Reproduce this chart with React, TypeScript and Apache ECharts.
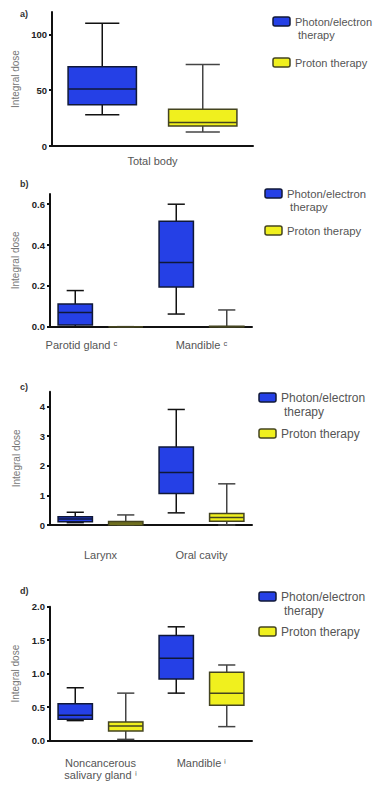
import React, { useEffect, useRef } from "react";
import * as echarts from "echarts";

const therapies = ["Photon/electron", "therapy", "Proton therapy"];
const yName = "Integral dose";
const panelLabels = ["a)", "b)", "c)", "d)"];

// box statistics: [min, Q1, median, Q3, max]
const aGroups = ["Total body"];
const aPhoton = [[28, 37, 51, 71, 110]];
const aProton = [[12.5, 18, 21, 33, 73]];
const aTicks = [0, 50, 100];

const bGroups = ["Parotid gland ᶜ", "Mandible ᶜ"];
const bPhoton = [
  [0, 0.008, 0.069, 0.111, 0.177],
  [0.062, 0.194, 0.315, 0.516, 0.6],
];
const bProton = [
  [0, 0, 0, 0, 0],
  [0, 0, 0, 0.002, 0.082],
];
const bTicks = [0, 0.2, 0.4, 0.6];

const cGroups = ["Larynx", "Oral cavity"];
const cPhoton = [
  [0.08, 0.11, 0.2, 0.28, 0.43],
  [0.41, 1.06, 1.77, 2.63, 3.9],
];
const cProton = [
  [0, 0, 0.07, 0.12, 0.34],
  [0, 0.13, 0.25, 0.39, 1.39],
];
const cTicks = [0, 1, 2, 3, 4];

const dGroups = ["Noncancerous\nsalivary gland ⁱ", "Mandible ⁱ"];
const dPhoton = [
  [0.3, 0.32, 0.38, 0.55, 0.79],
  [0.71, 0.92, 1.23, 1.57, 1.7],
];
const dProton = [
  [0.02, 0.145, 0.22, 0.28, 0.71],
  [0.21, 0.53, 0.71, 1.02, 1.13],
];
const dTicks = [0, 0.5, 1, 1.5, 2];

const BLUE = "#2540e6";
const YELLOW = "#f0f01e";
const FONT = "'Liberation Sans', Arial, sans-serif";

type Panel = {
  groups: string[];
  photon: number[][];
  proton: number[][];
  ticks: number[];
  max: number;
  dec: number;
  left: number;
  top: number;
  width: number;
  height: number;
  labelMargin: number;
  nameGap: number;
  legendX: number;
  legendY: number;
  yellowY: number;
  legendFont: number;
  labelY: number;
};

const panels: Panel[] = [
  { groups: aGroups, photon: aPhoton, proton: aProton, ticks: aTicks, max: 120, dec: 0,
    left: 52, top: 12, width: 201, height: 134, labelMargin: 9, nameGap: 26,
    legendX: 273, legendY: 17, yellowY: 58, legendFont: 11, labelY: 14 },
  { groups: bGroups, photon: bPhoton, proton: bProton, ticks: bTicks, max: 0.65, dec: 1,
    left: 50, top: 194, width: 202, height: 132.7, labelMargin: 12, nameGap: 29,
    legendX: 265, legendY: 189, yellowY: 226, legendFont: 11.3, labelY: 184 },
  { groups: cGroups, photon: cPhoton, proton: cProton, ticks: cTicks, max: 4.5, dec: 0,
    left: 50, top: 391.7, width: 202, height: 133.3, labelMargin: 24, nameGap: 29,
    legendX: 259, legendY: 393, yellowY: 429, legendFont: 12, labelY: 387 },
  { groups: dGroups, photon: dPhoton, proton: dProton, ticks: dTicks, max: 2, dec: 1,
    left: 50, top: 606.7, width: 202, height: 134, labelMargin: 16, nameGap: 29,
    legendX: 259, legendY: 592, yellowY: 627, legendFont: 12, labelY: 591 },
];

function makeRender(fill: string, border: string, whisker: string) {
  return (params: any, api: any) => {
    const x = api.value(0);
    const pts = [1, 2, 3, 4, 5].map((k) => api.coord([x, api.value(k)]));
    const cx = pts[0][0];
    const y = pts.map((p: number[]) => p[1]);
    const bw = api.size([1, 0])[0] * 0.68;
    const cap = bw / 4;
    const lw = 1.5;
    return {
      type: "group",
      children: [
        { type: "line", shape: { x1: cx, y1: y[3], x2: cx, y2: y[4] }, style: { stroke: whisker, lineWidth: lw } },
        { type: "line", shape: { x1: cx - cap, y1: y[4], x2: cx + cap, y2: y[4] }, style: { stroke: whisker, lineWidth: lw } },
        { type: "line", shape: { x1: cx, y1: y[0], x2: cx, y2: y[1] }, style: { stroke: whisker, lineWidth: lw } },
        { type: "line", shape: { x1: cx - cap, y1: y[0], x2: cx + cap, y2: y[0] }, style: { stroke: whisker, lineWidth: lw } },
        { type: "rect", shape: { x: cx - bw / 2, y: y[3], width: bw, height: y[1] - y[3] }, style: { fill, stroke: border, lineWidth: lw } },
        { type: "line", shape: { x1: cx - bw / 2, y1: y[2], x2: cx + bw / 2, y2: y[2] }, style: { stroke: border, lineWidth: lw } },
      ],
    };
  };
}

export default function App() {
  const ref = useRef<HTMLDivElement>(null);
  useEffect(() => {
    document.body.style.margin = "0";
    const chart = echarts.init(ref.current!, null, { renderer: "svg" });
    const grid: any[] = [];
    const xAxis: any[] = [];
    const yAxis: any[] = [];
    const series: any[] = [];
    const graphic: any[] = [];
    panels.forEach((p, i) => {
      grid.push({ left: p.left, top: p.top, width: p.width, height: p.height, containLabel: false });
      const slots: string[] = [];
      p.groups.forEach((g) => {
        slots.push(g + " photon");
        slots.push(g + " proton");
      });
      xAxis.push({
        gridIndex: i,
        type: "category",
        data: slots,
        position: "bottom",
        boundaryGap: true,
        axisLine: { lineStyle: { color: "#111", width: 2 } },
        axisTick: { alignWithLabel: true, interval: 0, length: 5, lineStyle: { color: "#111", width: 2 } },
        axisLabel: { show: false },
        splitLine: { show: false },
      });
      xAxis.push({
        gridIndex: i,
        type: "category",
        data: p.groups.map((g) =>
          g.startsWith("Parotid") ? { value: g, textStyle: { padding: [0, 38, 0, 0] } } : g
        ),
        position: "bottom",
        offset: 0,
        boundaryGap: true,
        axisLine: { show: false },
        axisTick: { show: false },
        axisLabel: { interval: 0, margin: p.labelMargin, fontSize: 11, color: "#555", fontFamily: FONT, lineHeight: 12 },
        splitLine: { show: false },
      });
      yAxis.push({
        gridIndex: i,
        type: "value",
        min: 0,
        max: p.max,
        name: yName,
        nameLocation: "middle",
        nameGap: p.nameGap,
        nameTextStyle: { fontSize: 10, color: "#777", fontFamily: FONT },
        axisLine: { show: true, lineStyle: { color: "#111", width: 2 } },
        axisTick: { show: true, length: 3, customValues: p.ticks, lineStyle: { color: "#111", width: 2 } },
        axisLabel: {
          customValues: p.ticks,
          margin: 5,
          fontSize: 9.5,
          fontWeight: "bold",
          color: "#222",
          fontFamily: FONT,
          formatter: (v: number) => v.toFixed(p.dec),
        },
        splitLine: { show: false },
      });
      series.push({
        type: "custom",
        name: therapies[0],
        xAxisIndex: 2 * i,
        yAxisIndex: i,
        encode: { x: 0, y: [1, 2, 3, 4, 5] },
        renderItem: makeRender(BLUE, "#101838", "#111"),
        data: p.photon.map((s, g) => [2 * g, ...s]),
      });
      series.push({
        type: "custom",
        name: therapies[2],
        xAxisIndex: 2 * i,
        yAxisIndex: i,
        encode: { x: 0, y: [1, 2, 3, 4, 5] },
        renderItem: makeRender(YELLOW, "#444420", "#444"),
        data: p.proton.map((s, g) => [2 * g + 1, ...s]),
      });
      graphic.push({
        type: "text",
        x: 20,
        y: p.labelY,
        style: { text: panelLabels[i], font: `bold 9px ${FONT}`, fill: "#333", verticalAlign: "middle" },
      });
      const lx = p.legendX;
      const ly = p.legendY;
      const sq = 17;
      const sh = 9;
      const tx = lx + 22;
      const fs = p.legendFont;
      const gap2 = fs * 1.2;
      graphic.push({
        type: "rect",
        shape: { x: lx, y: ly, width: sq, height: sh, r: 2 },
        style: { fill: BLUE, stroke: "#101838", lineWidth: 1.5 },
      });
      graphic.push({
        type: "text",
        x: tx,
        y: ly + sh / 2,
        style: { text: therapies[0], font: `${fs}px ${FONT}`, fill: "#555", verticalAlign: "middle" },
      });
      graphic.push({
        type: "text",
        x: tx + 3,
        y: ly + sh / 2 + gap2,
        style: { text: therapies[1], font: `${fs}px ${FONT}`, fill: "#555", verticalAlign: "middle" },
      });
      graphic.push({
        type: "rect",
        shape: { x: lx, y: p.yellowY, width: sq, height: sh, r: 2 },
        style: { fill: YELLOW, stroke: "#444420", lineWidth: 1.5 },
      });
      graphic.push({
        type: "text",
        x: tx,
        y: p.yellowY + sh / 2,
        style: { text: therapies[2], font: `${fs}px ${FONT}`, fill: "#555", verticalAlign: "middle" },
      });
    });
    chart.setOption({
      animation: false,
      backgroundColor: "#fff",
      textStyle: { fontFamily: FONT },
      grid,
      xAxis,
      yAxis,
      series,
      graphic,
    });
    return () => chart.dispose();
  }, []);
  return <div ref={ref} style={{ width: 377, height: 787 }} />;
}
